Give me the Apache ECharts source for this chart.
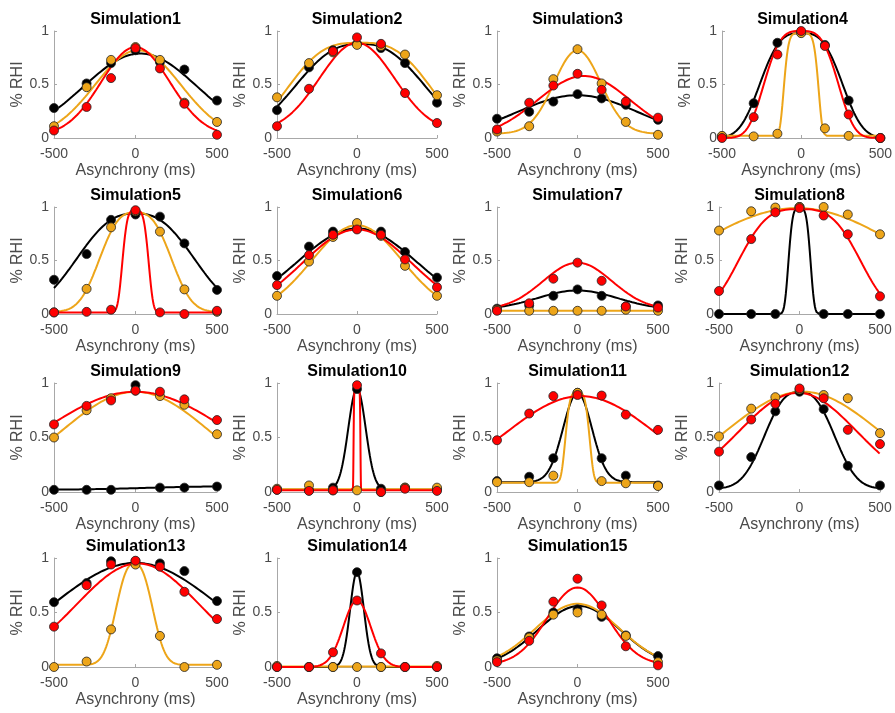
<!DOCTYPE html>
<html><head><meta charset="utf-8">
<script src="https://cdn.jsdelivr.net/npm/echarts@6/dist/echarts.min.js"></script>
<style>html,body{margin:0;padding:0;background:#fff}#c{width:895px;height:713px}</style>
</head><body><div id="c"></div>
<script>
// ---- data ----
const asynchrony = [-500, -300, -150, 0, 150, 300, 500];
const xTickValues = [-500, 0, 500];
const yTickValues = [0, 0.5, 1];
const simTitles = ['Simulation1','Simulation2','Simulation3','Simulation4','Simulation5','Simulation6','Simulation7','Simulation8','Simulation9','Simulation10','Simulation11','Simulation12','Simulation13','Simulation14','Simulation15'];

// observed % RHI at each asynchrony (one row per simulation)
const blackRHI = [
  [0.28,0.51,0.70,0.82,0.71,0.64,0.35],
  [0.26,0.66,0.82,0.88,0.84,0.70,0.33],
  [0.18,0.245,0.34,0.41,0.37,0.31,0.17],
  [0.015,0.325,0.89,0.985,0.87,0.35,0.0],
  [0.32,0.56,0.88,0.93,0.91,0.66,0.225],
  [0.355,0.63,0.77,0.80,0.77,0.58,0.34],
  [0.05,0.08,0.17,0.23,0.17,0.07,0.08],
  [0.0,0.0,0.0,1.0,0.0,0.0,0.0],
  [0.02,0.02,0.02,0.98,0.04,0.04,0.05],
  [0.02,0.015,0.04,0.945,0.03,0.04,0.025],
  [0.10,0.14,0.31,0.91,0.31,0.15,0.06],
  [0.06,0.32,0.74,0.92,0.76,0.24,0.06],
  [0.595,0.77,0.97,0.97,0.95,0.88,0.605],
  [0.0,0.0,0.0,0.87,0.0,0.0,0.0],
  [0.08,0.28,0.50,0.53,0.46,0.29,0.10]
];
const orangeRHI = [
  [0.11,0.475,0.73,0.85,0.73,0.33,0.15],
  [0.38,0.70,0.80,0.87,0.86,0.78,0.40],
  [0.06,0.11,0.55,0.83,0.51,0.15,0.03],
  [0.02,0.015,0.04,0.98,0.09,0.02,0.0],
  [0.015,0.235,0.81,0.96,0.77,0.23,0.02],
  [0.17,0.49,0.72,0.85,0.73,0.45,0.17],
  [0.04,0.03,0.03,0.03,0.03,0.04,0.03],
  [0.78,0.96,0.995,1.0,1.0,0.93,0.745],
  [0.50,0.75,0.86,0.93,0.88,0.80,0.53],
  [0.03,0.06,0.015,0.015,0.0,0.04,0.04],
  [0.09,0.09,0.15,0.91,0.10,0.08,0.055],
  [0.51,0.765,0.87,0.94,0.89,0.86,0.54],
  [0.0,0.05,0.345,0.94,0.285,0.0,0.02],
  [0.01,0.0,0.0,0.0,0.0,0.0,0.01],
  [0.06,0.27,0.48,0.50,0.48,0.285,0.045]
];
const redRHI = [
  [0.07,0.29,0.56,0.84,0.65,0.32,0.03],
  [0.11,0.46,0.81,0.94,0.88,0.42,0.14],
  [0.08,0.33,0.49,0.60,0.45,0.34,0.19],
  [0.0,0.195,0.78,1.0,0.86,0.22,0.0],
  [0.015,0.02,0.04,0.97,0.015,0.0,0.03],
  [0.27,0.55,0.74,0.79,0.74,0.51,0.25],
  [0.03,0.10,0.33,0.48,0.31,0.07,0.06],
  [0.215,0.70,0.95,0.99,0.92,0.745,0.165],
  [0.62,0.79,0.84,0.93,0.92,0.85,0.66],
  [0.02,0.01,0.015,0.98,0.0,0.03,0.01],
  [0.475,0.72,0.88,0.89,0.885,0.71,0.57],
  [0.37,0.665,0.81,0.95,0.86,0.57,0.44],
  [0.37,0.75,0.94,0.975,0.92,0.69,0.44],
  [0.0,0.0,0.135,0.61,0.125,0.0,0.0],
  [0.045,0.24,0.60,0.81,0.565,0.19,0.015]
];

// fitted tuning-curve parameters: [baseline, amplitude, centre, width, shape]
const blackFit = [
  [0,0.79,30,495,2],[0,0.88,20,500,2.5],[0,0.40,0,530,2],[0,0.98,0,298,3.1],[0,0.94,0,443,2.5],
  [0,0.80,0,530,2],[0.04,0.18,0,350,2],[0,0.99,0,75,4],[0.02,0.03,500,600,2],[0.02,0.93,0,77,2],
  [0.09,0.82,0,126,2],[0.03,0.89,0,264,2.6],[0,0.955,0,713,2],[0,0.87,0,61,2],[0,0.56,10,363,2]
];
const orangeFit = [
  [0,0.82,15,372,2],[0,0.89,15,520,3],[0.04,0.78,0,206,2],[0.02,0.96,0,115,5.7],[0.02,0.93,0,260,2.8],
  [0,0.83,0,397,2],[0.03,0,0,100,2],[0,0.99,-15,965,2],[0,0.92,0,645,2],[0.025,0,0,100,2],
  [0.085,0.83,0,82,4],[0,0.92,20,677,2],[0.02,0.93,-7,139,2.5],[0.005,0,0,100,2],[0,0.58,0,370,2]
];
const redFit = [
  [0.02,0.83,0,298,2],[0.05,0.84,0,331,2],[0,0.58,40,410,2],[0,1.0,0,263,3.4],[0.015,0.955,0,88,4],
  [0,0.79,0,481,2],[0.04,0.44,0,303,2],[0,0.98,0,428,3.2],[0,0.92,0,820,2],[0.015,0.96,0,22,10],
  [0,0.88,20,670,2],[0,0.91,-10,522,2],[0,0.95,15,530,2],[0,0.61,0,121,2],[0.02,0.71,0,265,2]
];

// ---- layout / style ----
const rowTop = [31, 207, 383, 558];
const rowH = [107, 107, 109, 109];
const colLeft = [54, 277, 497, 719];
const colW = [163, 160, 161, 161];
const colors = { black: '#000000', orange: '#EDA519', red: '#FF0000' };
const FONT = '"Liberation Sans", Arial, Helvetica, sans-serif';
const textGray = '#4a4a4a';

function curve(par) {
  const [b, a, mu, s, p] = par;
  const pts = [];
  for (let x = -500; x <= 500; x += 1) {
    pts.push([x, b + a * Math.exp(-Math.pow(Math.abs(x - mu) / s, p))]);
  }
  return pts;
}

const grid = [], xAxis = [], yAxis = [], series = [], graphic = [];
simTitles.forEach((t, i) => {
  const r = Math.floor(i / 4), c = i % 4;
  const left = colLeft[c] + (i === 3 ? 3 : 0), top = rowTop[r], w = colW[c], h = rowH[r];
  grid.push({ left, top, width: w, height: h, containLabel: false });
  xAxis.push({
    gridIndex: i, type: 'value', min: -500, max: 500, interval: 500,
    name: 'Asynchrony (ms)', nameLocation: 'middle', nameGap: 25,
    nameTextStyle: { fontFamily: FONT, fontSize: 16, color: textGray },
    axisLine: { show: true, onZero: false, lineStyle: { color: '#a8a8a8', width: 1 } },
    axisTick: { show: true, inside: true, length: 3, lineStyle: { color: '#a8a8a8' } },
    axisLabel: { fontFamily: FONT, fontSize: 14, color: textGray, margin: 9 },
    splitLine: { show: false }
  });
  yAxis.push({
    gridIndex: i, type: 'value', min: 0, max: 1, interval: 0.5,
    name: '% RHI', nameLocation: 'middle', nameGap: 24, nameRotate: 90,
    nameTextStyle: { fontFamily: FONT, fontSize: 16, color: textGray },
    axisLine: { show: true, onZero: false, lineStyle: { color: '#a8a8a8', width: 1 } },
    axisTick: { show: true, inside: true, length: 3, lineStyle: { color: '#a8a8a8' } },
    axisLabel: { fontFamily: FONT, fontSize: 14, color: textGray, margin: 5 },
    splitLine: { show: false }
  });
  graphic.push({
    type: 'text', x: left + w / 2, y: top - 11, z: 10,
    style: { text: t, fill: '#000', font: 'bold 16px ' + FONT, textAlign: 'center', textVerticalAlign: 'middle', align: 'center', verticalAlign: 'middle' }
  });
  const sets = [
    ['black', blackFit[i], blackRHI[i]],
    ['orange', orangeFit[i], orangeRHI[i]],
    ['red', redFit[i], redRHI[i]]
  ];
  sets.forEach(([k, fit]) => {
    series.push({
      type: 'line', xAxisIndex: i, yAxisIndex: i, data: curve(fit), showSymbol: false,
      symbol: 'none', clip: false, silent: true, animation: false, z: 2,
      lineStyle: { color: colors[k], width: 2 }
    });
  });
  sets.forEach(([k, , obs]) => {
    series.push({
      type: 'scatter', xAxisIndex: i, yAxisIndex: i, clip: false, animation: false, z: 3,
      data: asynchrony.map((x, j) => [x, obs[j]]), symbol: 'circle', symbolSize: 9,
      itemStyle: { color: colors[k], borderColor: '#222', borderWidth: 0.8, opacity: 1 }
    });
  });
});

const chart = echarts.init(document.getElementById('c'), null, { renderer: 'canvas' });
chart.setOption({ animation: false, backgroundColor: '#fff', grid, xAxis, yAxis, series, graphic });
</script></body></html>
